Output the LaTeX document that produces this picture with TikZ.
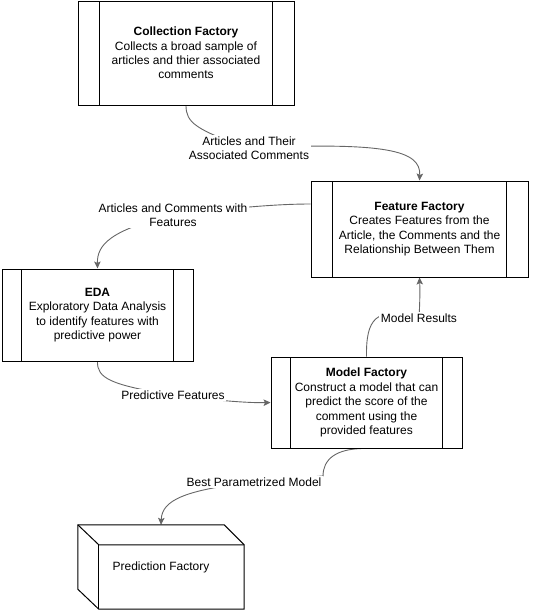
\documentclass[tikz,border=0pt]{standalone}
\usepackage{fontspec}
\setmainfont{Liberation Sans}
\usetikzlibrary{calc,arrows.meta}
\definecolor{edgegray}{HTML}{666666}
\pgfdeclarelayer{bg}
\pgfsetlayers{bg,main}
\begin{document}
\begin{tikzpicture}[x=1pt,y=-1pt,
  every node/.style={font=\fontsize{12}{14.4}\selectfont, text=black},
  proc/.style={draw=black, line width=1pt, fill=white, align=center, inner sep=0pt,
    path picture={
      \draw[line width=1pt] ($(path picture bounding box.north west)!0.1!(path picture bounding box.north east)$) -- ($(path picture bounding box.south west)!0.1!(path picture bounding box.south east)$);
      \draw[line width=1pt] ($(path picture bounding box.north east)!0.1!(path picture bounding box.north west)$) -- ($(path picture bounding box.south east)!0.1!(path picture bounding box.south west)$);
    }},
  elabel/.style={fill=white, align=center, inner sep=1.5pt},
  conn/.style={draw=edgegray, line width=0.9pt, -{Stealth[length=7pt,width=6.5pt,inset=1.5pt]}},
  cubeline/.style={draw=black, line width=1pt, line join=miter}
]
\useasboundingbox (0,0) rectangle (533,611);

% process boxes
\node[proc, minimum width=216pt, minimum height=104pt] (cf) at (186,53)
  {\textbf{Collection Factory}\\Collects a broad sample of\\articles and thier associated\\comments};
\node[proc, minimum width=217pt, minimum height=96pt] (ff) at (419.5,229)
  {\textbf{Feature Factory}\\Creates Features from the\\Article, the Comments and the\\Relationship Between Them};
\node[proc, minimum width=191pt, minimum height=92pt] (eda) at (97.5,315)
  {\textbf{EDA}\\Exploratory Data Analysis\\to identify features with\\predictive power};
\node[proc, minimum width=191pt, minimum height=91pt] (mf) at (366.5,402.5)
  {\textbf{Model Factory}\\Construct a model that can\\predict the score of the\\comment using the\\provided features};

% cube
\node[minimum width=166pt, minimum height=84pt, inner sep=0pt] (pf) at (161,567) {Prediction Factory};
\draw[cubeline] (pf.north west) -- ($(pf.north east)+(-20,0)$) -- ($(pf.north east)+(0,20)$)
  -- (pf.south east) -- ($(pf.south west)+(21,0)$) -- ($(pf.south west)+(0,-20)$) -- cycle;
\draw[cubeline] (pf.north west) -- ($(pf.north west)+(21,20)$) -- ($(pf.north east)+(0,20)$);
\draw[cubeline] ($(pf.north west)+(21,20)$) -- ($(pf.south west)+(21,0)$);

% edge labels
\node[elabel] (l1) at (249,148) {Articles and Their\\Associated Comments};
\node[elabel] (l2) at (173,215) {Articles and Comments with\\Features};
\node[elabel] (l3) at (173,395) {Predictive Features};
\node[elabel] (l4) at (419,318) {Model Results};
\node[elabel] (l5) at (254,482) {Best Parametrized Model};

% connectors
\begin{pgfonlayer}{bg}
\draw[conn] (cf.south) .. controls (186,122) and (195,130) .. (l1.center)
  .. controls (385,142) and (421,150) .. (ff.north);
\draw[conn] ([yshift=25pt]ff.west) .. controls (280,204) and (240,207) .. (l2.center)
  .. controls (110,230) and (97,245) .. (eda.north);
\draw[conn] (eda.south) .. controls (97,378) and (110,385) .. (l3.center)
  .. controls (220,401) and (250,403) .. (mf.west);
\draw[conn] (mf.north) .. controls (366,320) and (375,305) .. (l4.center)
  .. controls (420,300) and (420,290) .. (ff.south);
\draw[conn] (mf.south) .. controls (335,448) and (323,460) .. (l5.north east) -- (l5.center)
  .. controls (185,490) and (162,500) .. (pf.north);
\end{pgfonlayer}
\end{tikzpicture}
\end{document}
